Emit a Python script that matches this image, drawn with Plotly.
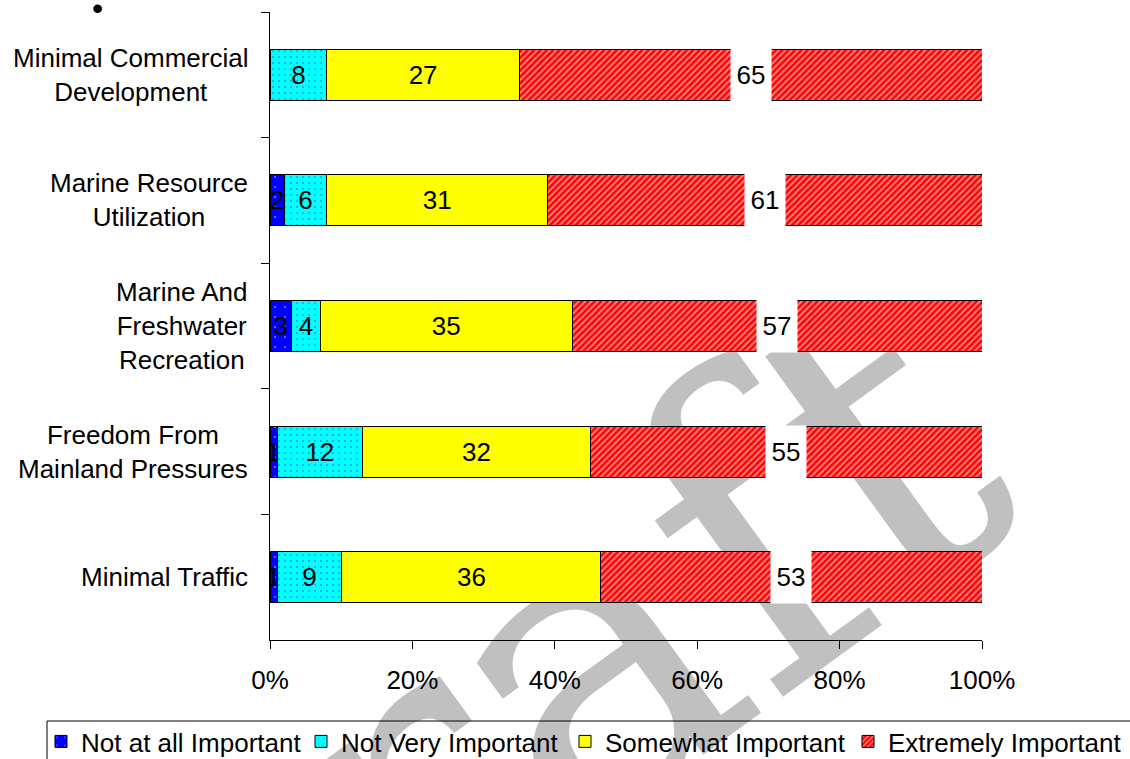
import plotly.graph_objects as go

# Survey: importance ratings (percent of respondents) per attribute
categories = [
    "Minimal Commercial Development",
    "Marine Resource Utilization",
    "Marine And Freshwater Recreation",
    "Freedom From Mainland Pressures",
    "Minimal Traffic",
]
category_labels = [
    "Minimal Commercial<br>Development",
    "Marine Resource<br>Utilization",
    "Marine And<br>Freshwater<br>Recreation",
    "Freedom From<br>Mainland Pressures",
    "Minimal Traffic",
]
not_at_all = [0, 2, 3, 1, 1]
not_very = [8, 6, 4, 12, 9]
somewhat = [27, 31, 35, 32, 36]
extremely = [65, 61, 57, 55, 53]

series_names = ["Not at all Important", "Not Very Important",
                "Somewhat Important", "Extremely Important"]
x_ticks = [0, 20, 40, 60, 80, 100]
x_tick_labels = ["0%", "20%", "40%", "60%", "80%", "100%"]

W, H = 1130, 759
ML, MR, MT, MB = 270, 148, 12, 119
PW, PH = W - ML - MR, H - MT - MB
FONT = "Arial, Liberation Sans, sans-serif"


def px_x(px):
    return (px - ML) / PW


def px_y(py):
    return (H - MB - py) / PH


def labels(vals):
    return [str(v) if v else "" for v in vals]


fig = go.Figure()

styles = [
    dict(color="#0000FF", pattern=dict(shape=".", fgcolor="white", size=10, solidity=0.03)),
    dict(color="#00FFFF", pattern=dict(shape=".", fgcolor="#3838B0", size=6, solidity=0.07)),
    dict(color="#FFFF00"),
    dict(color="#FF0000", pattern=dict(shape="/", fgcolor="white", size=4.5, solidity=0.45)),
]
series = [not_at_all, not_very, somewhat, extremely]
legend_ids = ["legend", "legend", "legend2", "legend2"]
legend_widths = [215, None, 238, None]

for i, (name, vals, st) in enumerate(zip(series_names, series, styles)):
    fig.add_trace(go.Bar(
        y=categories, x=vals, name=name, orientation="h",
        marker=dict(line=dict(color="black", width=1), **st),
        text=labels(vals) if i < 3 else None,
        textposition="inside", insidetextanchor="middle",
        textfont=dict(family=FONT, size=26, color="black"),
        constraintext="none",
        legend=legend_ids[i], legendwidth=legend_widths[i],
    ))

# value labels on white boxes for the "Extremely Important" segments
for cat, a, b, c, d in zip(categories, not_at_all, not_very, somewhat, extremely):
    total = a + b + c + d
    start = (a + b + c) / total * 100
    center = start + d / total * 100 / 2
    fig.add_annotation(
        x=center, y=cat, xref="x", yref="y", text=str(d), showarrow=False,
        font=dict(family=FONT, size=26, color="black"),
        bgcolor="white", width=38, height=50,
    )

# category labels, lines centred, block right-aligned against the axis
for cat, lab in zip(categories, category_labels):
    fig.add_annotation(
        x=px_x(250), xref="paper", y=cat, yref="y", text=lab, showarrow=False,
        xanchor="right", yanchor="middle", align="center",
        font=dict(family=FONT, size=26, color="black"),
    )

fig.add_annotation(x=px_x(90), y=px_y(-12), xref="paper", yref="paper", text="•",
                   showarrow=False, font=dict(family=FONT, size=32, color="black"))

# legend frame spanning both legend groups
fig.add_shape(
    type="rect", xref="paper", yref="paper", layer="above",
    x0=px_x(47), x1=px_x(1145), y0=px_y(721), y1=px_y(800),
    line=dict(color="black", width=1), fillcolor="rgba(0,0,0,0)",
)

# watermark beneath the chart
fig.add_shape(
    type="rect", xref="paper", yref="paper", layer="below",
    x0=px_x(430), x1=px_x(530), y0=px_y(750), y1=px_y(650),
    line=dict(width=0), fillcolor="rgba(0,0,0,0)",
    label=dict(text="Draft", textangle=-36, textposition="middle center",
               font=dict(family="DejaVu Serif", size=420, color="#C0C0C0")),
)

legend_common = dict(
    orientation="h", xanchor="left", y=px_y(718), yanchor="top",
    borderwidth=0, bgcolor="rgba(0,0,0,0)",
    font=dict(family=FONT, size=26, color="black"),
    traceorder="normal", itemwidth=30,
)

fig.update_layout(
    width=W, height=H,
    margin=dict(l=ML, r=MR, t=MT, b=MB, pad=0, autoexpand=False),
    barmode="stack", barnorm="percent", bargap=0.594,
    paper_bgcolor="white", plot_bgcolor="rgba(0,0,0,0)",
    font=dict(family=FONT, size=24, color="black"),
    uniformtext=dict(minsize=26, mode="show"),
    showlegend=True,
    legend=dict(x=px_x(41), **legend_common),
    legend2=dict(x=px_x(565), **legend_common),
    xaxis=dict(
        range=[0, 100], tickvals=x_ticks, ticktext=x_tick_labels,
        showgrid=False, zeroline=False, showline=True, linecolor="black", linewidth=1,
        ticks="outside", ticklen=8, tickcolor="black",
        tickfont=dict(family=FONT, size=26, color="black"), ticklabelstandoff=9,
    ),
    yaxis=dict(
        autorange="reversed", showticklabels=False, showgrid=False, zeroline=False,
        showline=True, linecolor="black", linewidth=1,
        ticks="outside", ticklen=8, tickcolor="black", tickson="boundaries",
    ),
)

fig.write_html("out.html")
